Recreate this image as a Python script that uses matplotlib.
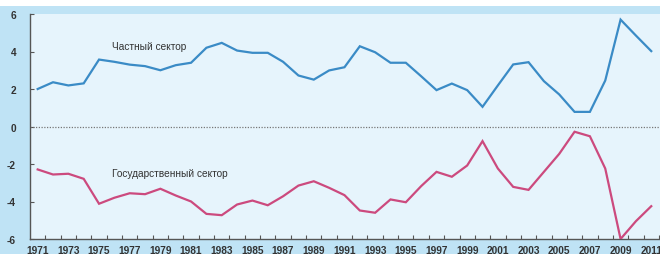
import matplotlib
matplotlib.use("Agg")
import matplotlib.pyplot as plt
from matplotlib.patches import Rectangle
from matplotlib.ticker import MultipleLocator, FixedLocator

years = list(range(1971, 2012))
private = [2.0, 2.36, 2.19, 2.3, 3.57, 3.45, 3.3, 3.22, 3.0, 3.27,
           3.4, 4.2, 4.46, 4.05, 3.93, 3.93, 3.45, 2.72, 2.5, 2.99,
           3.16, 4.28, 3.96, 3.4, 3.4, 2.68, 1.94, 2.29, 1.94, 1.05,
           2.19, 3.31, 3.43, 2.42, 1.71, 0.78, 0.78, 2.45, 5.7, 4.85, 4.02]
public = [-2.29, -2.56, -2.52, -2.79, -4.12, -3.8, -3.56, -3.61, -3.32, -3.68,
          -4.0, -4.66, -4.73, -4.16, -3.95, -4.2, -3.72, -3.15, -2.92, -3.27,
          -3.66, -4.48, -4.6, -3.89, -4.04, -3.18, -2.42, -2.68, -2.08, -0.78,
          -2.24, -3.22, -3.38, -2.42, -1.46, -0.28, -0.52, -2.24, -6.0, -5.05, -4.25]
label_private = "Частный сектор"
label_public = "Государственный сектор"
xtick_labels = list(range(1971, 2012, 2))
yticks = [-6, -4, -2, 0, 2, 4, 6]

plt.rcParams['font.family'] = ['Liberation Sans', 'DejaVu Sans']

W, H = 660, 255
fig = plt.figure(figsize=(W / 100, H / 100), dpi=100, facecolor='white')
fig.patches.append(Rectangle((0, 0), 1, 1 - 7 / H, transform=fig.transFigure,
                             facecolor='#bfe3f5', edgecolor='none', zorder=-10))

ax = fig.add_axes([30 / W, 1 - 240 / H, 1 - 30 / W, (240 - 15) / H])
ax.set_facecolor('#e6f4fc')

ax.plot(years, private, color='#3a8bc6', lw=1.6, solid_joinstyle='miter', zorder=3)
ax.plot(years, public, color='#cc4a7e', lw=1.6, solid_joinstyle='miter', zorder=3)
ax.axhline(0, color='#777777', lw=0.9, linestyle=(0, (1, 1.2)), zorder=2)

ax.text(1975.85, 4.32, label_private, fontsize=7.3, color='#333333',
        ha='left', va='center')
ax.text(1975.85, -2.5, label_public, fontsize=7.3, color='#333333',
        ha='left', va='center')

ax.set_xlim(1970.5, 2011.57)
ax.set_ylim(-6, 6)

ax.set_xticks(xtick_labels)
ax.set_xticklabels([str(y) for y in xtick_labels])
ax.xaxis.set_minor_locator(FixedLocator([y + 0.5 for y in years]))
ax.tick_params(axis='x', which='major', length=0, pad=4, labelsize=7.3,
               labelcolor='#333333')
ax.tick_params(axis='x', which='minor', length=3, direction='in', color='#555555',
               width=0.8)
for lab in ax.get_xticklabels():
    lab.set_fontweight('bold')

ax.set_yticks(yticks)
ax.set_yticklabels([str(v) for v in yticks])
ax.tick_params(axis='y', length=3, direction='in', pad=10, labelsize=7.3,
               labelcolor='#333333', color='#555555', width=0.8)
for lab in ax.get_yticklabels():
    lab.set_fontweight('bold')

for s in ['top', 'right']:
    ax.spines[s].set_visible(False)
for s in ['left', 'bottom']:
    ax.spines[s].set_color('#555555')
    ax.spines[s].set_linewidth(1.0)

fig.savefig('out.png', dpi=100, facecolor=fig.get_facecolor())
